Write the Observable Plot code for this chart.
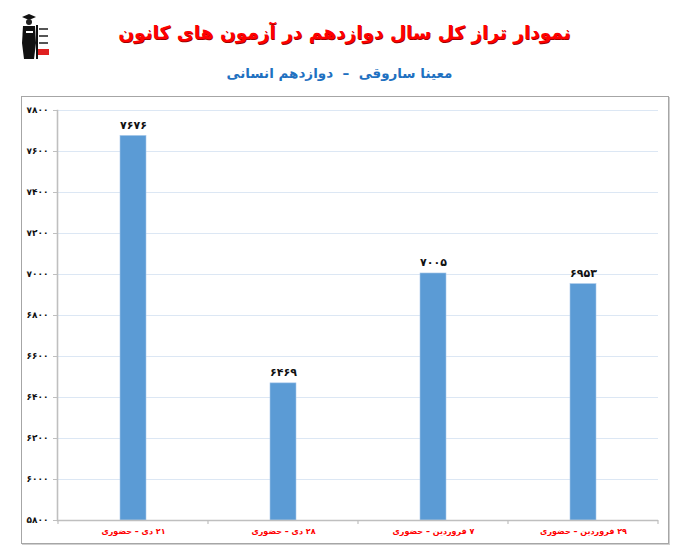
<!DOCTYPE html>
<html><head><meta charset="utf-8">
<script src="https://cdn.jsdelivr.net/npm/d3@7"></script>
<script src="https://cdn.jsdelivr.net/npm/@observablehq/plot@0.6"></script>
<style>
body{margin:0;background:#fff;width:679px;height:558px;overflow:hidden;font-family:"DejaVu Sans",sans-serif;position:relative;}
#header{position:relative;height:96px;width:679px;}
#title{position:absolute;top:18px;left:5px;width:679px;text-align:center;direction:rtl;color:#f00;font-weight:bold;font-size:18.5px;line-height:30px;text-shadow:0.7px 0.7px 0 #9a0000;}
#subtitle{position:absolute;top:61px;left:0;width:679px;text-align:center;direction:rtl;color:#1f71c1;font-weight:bold;font-size:13.5px;line-height:24px;}
#logo{position:absolute;left:16px;top:13px;}
#box{position:absolute;left:21px;top:96px;width:646px;height:446px;border:1px solid #a6a6a6;box-shadow:1px 1px 0 #d0d0d0;}
#box svg{display:block;}
</style>
</head><body>
<div id="header">
  <svg id="logo" width="34" height="50" viewBox="0 0 34 50">
    <path d="M6 4 L13 1 L20 4 L13 7 Z" fill="#111"/>
    <circle cx="13" cy="9" r="3" fill="#222"/>
    <path d="M7 13 L19 13 L20 30 L18 46 L8 46 L6 30 Z" fill="#111"/>
    <rect x="10" y="18" width="7" height="2" fill="#fff"/>
    <rect x="20" y="12" width="2" height="34" fill="#111"/>
    <rect x="23" y="15" width="9" height="2" fill="#555"/>
    <rect x="23" y="22" width="9" height="2" fill="#555"/>
    <rect x="23" y="29" width="9" height="2" fill="#555"/>
    <rect x="22" y="36" width="11" height="6" fill="#e02020"/>
  </svg>
  <div id="title">نمودار تراز کل سال دوازدهم در آزمون های کانون</div>
  <div id="subtitle">معینا ساروقی &nbsp;– &nbsp;دوازدهم انسانی</div>
</div>
<div id="box"></div>
<script>
const categories = ["۲۱ دی – حضوری", "۲۸ دی – حضوری", "۷ فروردین – حضوری", "۲۹ فروردین – حضوری"];
const values = [7676, 6469, 7005, 6953];
const yTicks = [5800, 6000, 6200, 6400, 6600, 6800, 7000, 7200, 7400, 7600, 7800];

const faDigits = "۰۱۲۳۴۵۶۷۸۹";
const fa = n => String(n).replace(/[0-9]/g, d => faDigits[+d]);
const data = categories.map((c, i) => ({cat: c, value: values[i]}));

const plot = Plot.plot({
  width: 646,
  height: 446,
  marginLeft: 35,
  marginRight: 10,
  marginTop: 13,
  marginBottom: 23,
  style: {fontFamily: "DejaVu Sans", background: "#fff"},
  x: {domain: categories, paddingInner: 0.83, paddingOuter: 0.415, axis: null, label: null},
  y: {domain: [yTicks[0], yTicks[yTicks.length - 1]], axis: null, label: null},
  marks: [
    Plot.gridY(yTicks, {stroke: "#dce7f4", strokeOpacity: 1, strokeWidth: 1.2}),
    Plot.barY(data, {x: "cat", y1: yTicks[0], y2: "value", fill: "#5b9bd5", stroke: "#a8c8ea", strokeWidth: 0.6}),
    Plot.axisY(yTicks, {label: null, tickFormat: fa, tickSize: 4, tickPadding: 5, fontSize: 9, fontWeight: "bold", stroke: "#bfbfbf", fill: "#111"}),
    Plot.axisX({label: null, tickSize: 0, tickPadding: 8, fontSize: 8, fontWeight: "bold", fill: "#ff0000", tickFormat: d => "\u200F" + d}),
    Plot.ruleY([yTicks[0]], {stroke: "#bfbfbf", strokeWidth: 1.6}),
    Plot.frame({anchor: "left", stroke: "#bfbfbf", strokeWidth: 1.6}),
    Plot.text(data, {x: "cat", y: "value", text: d => fa(d.value), dy: -7, lineAnchor: "bottom", fontSize: 11, fontWeight: "bold", fill: "#111"})
  ]
});

// category boundary ticks on the x axis, computed from the band scale
const sx = plot.scale("x");
const sy = plot.scale("y");
const y0 = sy.apply(yTicks[0]);
const edges = categories.map(c => sx.apply(c) + sx.bandwidth / 2 - sx.step / 2);
edges.push(sx.apply(categories[categories.length - 1]) + sx.bandwidth / 2 + sx.step / 2);
const svg = d3.select(plot);
svg.append("g").selectAll("line").data(edges).join("line")
  .attr("x1", d => d).attr("x2", d => d)
  .attr("y1", y0).attr("y2", y0 + 4)
  .attr("stroke", "#bfbfbf").attr("stroke-width", 1.2);

document.getElementById("box").appendChild(plot);
</script>
</body></html>
